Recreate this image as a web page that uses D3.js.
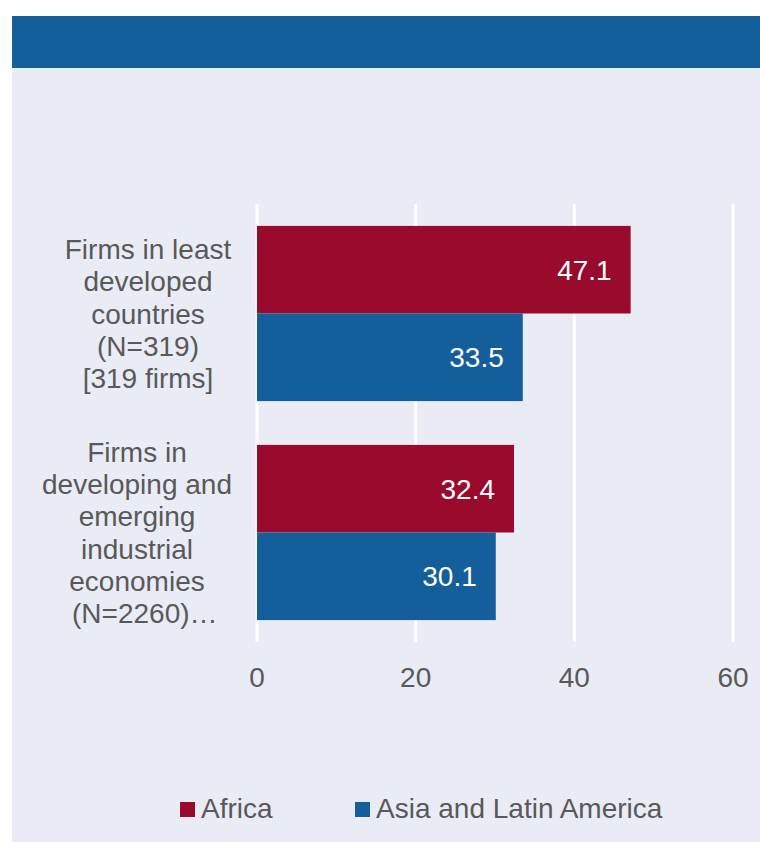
<!DOCTYPE html>
<html>
<head>
<meta charset="utf-8">
<script src="https://cdn.jsdelivr.net/npm/d3@7"></script>
<style>
  html, body { margin: 0; padding: 0; background: #fff; }
  svg { display: block; font-family: "Liberation Sans", Arial, sans-serif; }
</style>
</head>
<body>
<svg id="chart" width="760" height="842"></svg>
<script>
  // data
  const categories = [
    ['Firms in least', 'developed', 'countries', '(N=319)', '[319 firms]'],
    ['Firms in', 'developing and', 'emerging', 'industrial', 'economies', '\u00a0\u00a0(N=2260)\u2026']
  ];
  const seriesNames = ['Africa', 'Asia and Latin America'];
  const seriesColors = ['#990A2C', '#145E9B'];
  const africaValues = [47.1, 32.4];
  const asiaLatamValues = [33.5, 30.1];
  const xTicks = [0, 20, 40, 60];

  const svg = d3.select('#chart');
  const panel = { x: 12, top: 16, band: 52 };
  const plot = { left: 257, right: 733, top: 204, bottom: 642 };
  const labelCenters = [148, 137];
  const textColor = '#595959';

  // panel background + header band
  svg.append('rect').attr('x', panel.x).attr('y', panel.top)
    .attr('width', 760 - panel.x).attr('height', 842 - panel.top).attr('fill', '#E9ECF5');
  svg.append('rect').attr('x', panel.x).attr('y', panel.top)
    .attr('width', 760 - panel.x).attr('height', panel.band).attr('fill', '#145E9A');

  const x = d3.scaleLinear().domain([0, 60]).range([plot.left, plot.right]);
  const y0 = d3.scaleBand().domain(d3.range(categories.length))
    .range([plot.top, plot.bottom]).paddingInner(0.2).paddingOuter(0.1);
  const y1 = d3.scaleBand().domain(d3.range(seriesNames.length)).range([0, y0.bandwidth()]);

  // gridlines
  svg.append('g').selectAll('line').data(xTicks).join('line')
    .attr('x1', d => x(d)).attr('x2', d => x(d))
    .attr('y1', plot.top).attr('y2', plot.bottom)
    .attr('stroke', '#fff').attr('stroke-width', 3);

  // tick labels
  svg.append('g').selectAll('text').data(xTicks).join('text')
    .attr('x', d => x(d)).attr('y', 687)
    .attr('text-anchor', 'middle').attr('font-size', 28).attr('fill', textColor)
    .text(d => d);

  const rows = [];
  categories.forEach(function (c, i) {
    rows.push({ cat: i, s: 0, value: africaValues[i] });
    rows.push({ cat: i, s: 1, value: asiaLatamValues[i] });
  });

  const bars = svg.append('g');
  bars.selectAll('rect').data(rows).join('rect')
    .attr('x', x(0))
    .attr('y', d => y0(d.cat) + y1(d.s))
    .attr('width', d => x(d.value) - x(0))
    .attr('height', y1.bandwidth())
    .attr('fill', d => seriesColors[d.s]);

  bars.selectAll('text').data(rows).join('text')
    .attr('x', d => x(d.value) - 19)
    .attr('y', d => y0(d.cat) + y1(d.s) + y1.bandwidth() / 2 + 10)
    .attr('text-anchor', 'end').attr('font-size', 28).attr('fill', '#fff')
    .text(d => d.value.toFixed(1));

  // category labels (multi-line)
  const lineH = 32.3;
  const catG = svg.append('g');
  categories.forEach(function (lines, i) {
    const cy = y0(i) + y0.bandwidth() / 2;
    const first = cy - (lines.length - 1) * lineH / 2 + 10;
    const t = catG.append('text')
      .attr('text-anchor', 'middle').attr('font-size', 28).attr('fill', textColor);
    lines.forEach(function (ln, k) {
      t.append('tspan').attr('x', labelCenters[i]).attr('y', first + k * lineH).text(ln);
    });
  });

  // legend
  const legendX = [180, 355];
  const lg = svg.append('g').selectAll('g').data(seriesNames).join('g')
    .attr('transform', (d, i) => 'translate(' + legendX[i] + ',802)');
  lg.append('rect').attr('width', 15).attr('height', 15).attr('fill', (d, i) => seriesColors[i]);
  lg.append('text').attr('x', 21).attr('y', 16).attr('font-size', 28).attr('fill', textColor)
    .text(d => d);
</script>
</body>
</html>
